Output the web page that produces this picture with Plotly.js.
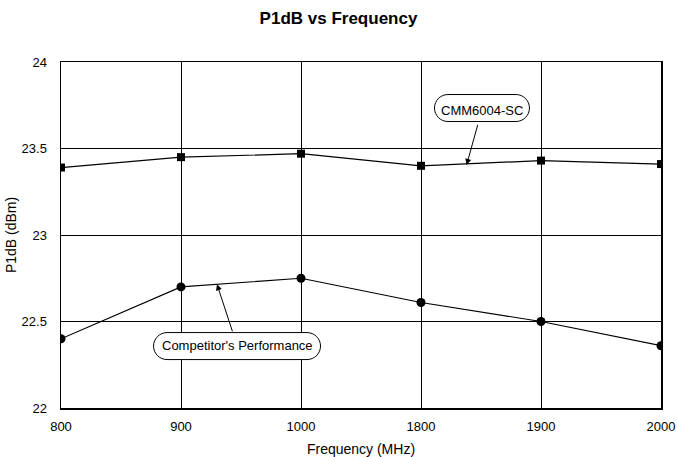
<!DOCTYPE html>
<html>
<head>
<meta charset="utf-8">
<script src="https://cdn.plot.ly/plotly-3.0.1.min.js"></script>
<style>html,body{margin:0;padding:0;background:#fff;}#chart{width:677px;height:457px;}</style>
</head>
<body>
<div id="chart"></div>
<script>
var frequencies = ["800", "900", "1000", "1800", "1900", "2000"];
var cmm6004 = [23.39, 23.45, 23.47, 23.40, 23.43, 23.41];
var competitor = [22.40, 22.70, 22.75, 22.61, 22.50, 22.36];
var yTicks = [22, 22.5, 23, 23.5, 24];
var yTickLabels = ["22", "22.5", "23", "23.5", "24"];

function pill(w, h) {
  var r = h;
  return "M " + (-w + r) + "," + (-h) + " L " + (w - r) + "," + (-h) +
    " C " + (w - r * 0.45) + "," + (-h) + " " + w + "," + (-h * 0.55) + " " + w + ",0" +
    " C " + w + "," + (h * 0.55) + " " + (w - r * 0.45) + "," + h + " " + (w - r) + "," + h +
    " L " + (-w + r) + "," + h +
    " C " + (-w + r * 0.45) + "," + h + " " + (-w) + "," + (h * 0.55) + " " + (-w) + ",0" +
    " C " + (-w) + "," + (-h * 0.55) + " " + (-w + r * 0.45) + "," + (-h) + " " + (-w + r) + "," + (-h) + " Z";
}

var traces = [
  {x: frequencies, y: cmm6004, type: "scatter", mode: "lines+markers", name: "CMM6004-SC",
   line: {color: "#000", width: 1.2}, marker: {symbol: "square", size: 8, color: "#000"}},
  {x: frequencies, y: competitor, type: "scatter", mode: "lines+markers", name: "Competitor's Performance",
   line: {color: "#000", width: 1.2}, marker: {symbol: "circle", size: 9, color: "#000"}}
];

var layout = {
  width: 677, height: 457,
  margin: {l: 61, r: 16, t: 62, b: 49},
  paper_bgcolor: "#fff", plot_bgcolor: "#fff",
  showlegend: false,
  font: {family: "Liberation Sans, Arial, sans-serif", color: "#000", size: 13},
  title: {text: "<b>P1dB vs Frequency</b>", x: 0.5, xanchor: "center", y: 0.96, yanchor: "middle",
          font: {size: 17, family: "Liberation Sans, Arial, sans-serif", color: "#000"}},
  xaxis: {type: "category", range: [0, 5], showgrid: true, gridcolor: "#000", gridwidth: 1,
          showline: true, linecolor: "#000", linewidth: 1.5, mirror: true, zeroline: false,
          ticks: "outside", ticklen: 6, tickcolor: "#fff",
          tickfont: {size: 13},
          title: {text: "Frequency (MHz)", font: {size: 14}, standoff: 12}},
  yaxis: {range: [22, 24], tickvals: yTicks, ticktext: yTickLabels, showgrid: true, gridcolor: "#000", gridwidth: 1,
          showline: true, linecolor: "#000", linewidth: 1.5, mirror: true, zeroline: false,
          ticks: "", ticklabelstandoff: 10,
          tickfont: {size: 13},
          title: {text: "P1dB (dBm)", font: {size: 14}, standoff: 1}},
  shapes: [
    {type: "path", xref: "x", yref: "y", xsizemode: "pixel", ysizemode: "pixel",
     xanchor: 3.508, yanchor: 23.734, path: pill(47.5, 13.5),
     line: {color: "#000", width: 1}, fillcolor: "#fff", layer: "above"},
    {type: "path", xref: "x", yref: "y", xsizemode: "pixel", ysizemode: "pixel",
     xanchor: 1.467, yanchor: 22.358, path: pill(83.5, 13.5),
     line: {color: "#000", width: 1}, fillcolor: "#fff", layer: "above"}
  ],
  annotations: [
    {x: 3.38, y: 23.405, xref: "x", yref: "y", text: "CMM6004-SC", showarrow: true,
     arrowhead: 2, arrowsize: 1.2, arrowwidth: 1, arrowcolor: "#000", ax: 15, ay: -54,
     borderpad: 6, font: {size: 13}},
    {x: 1.3, y: 22.715, xref: "x", yref: "y", text: "Competitor's Performance", showarrow: true,
     arrowhead: 2, arrowsize: 1.2, arrowwidth: 1, arrowcolor: "#000", ax: 20, ay: 61,
     borderpad: 6, font: {size: 13}}
  ]
};

Plotly.newPlot("chart", traces, layout, {displayModeBar: false, staticPlot: true});
</script>
</body>
</html>
